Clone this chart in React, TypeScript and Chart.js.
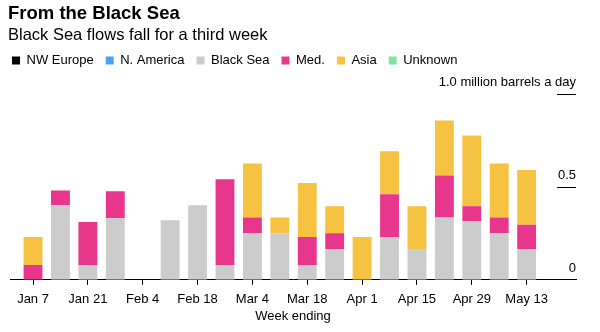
import React, { useEffect, useRef } from "react";
import { Chart, registerables } from "chart.js";

Chart.register(...registerables);

const FAMILY = "'Liberation Sans', Arial, Helvetica, sans-serif";

const TITLE = "From the Black Sea";
const SUBTITLE = "Black Sea flows fall for a third week";
const UNIT_LABEL = "1.0 million barrels a day";
const X_TITLE = "Week ending";

const weeks = [
  "Jan 7", "Jan 14", "Jan 21", "Jan 28", "Feb 4", "Feb 11", "Feb 18", "Feb 25",
  "Mar 4", "Mar 11", "Mar 18", "Mar 25", "Apr 1", "Apr 8", "Apr 15", "Apr 22",
  "Apr 29", "May 6", "May 13",
];
const tickLabels = ["Jan 7", "Jan 21", "Feb 4", "Feb 18", "Mar 4", "Mar 18", "Apr 1", "Apr 15", "Apr 29", "May 13"];
const yTickValues = [0, 0.5, 1.0];
const yTickLabels = ["0", "0.5", ""];

const nwEurope: number[] = [];
const nAmerica: number[] = [];
const blackSea = [0, 0.4, 0.08, 0.33, 0, 0.32, 0.4, 0.08, 0.25, 0.25, 0.08, 0.165, 0, 0.23, 0.165, 0.335, 0.315, 0.25, 0.165];
const med = [0.08, 0.08, 0.23, 0.145, 0, 0, 0, 0.46, 0.085, 0, 0.15, 0.085, 0, 0.23, 0, 0.225, 0.08, 0.085, 0.13];
const asia = [0.15, 0, 0, 0, 0, 0, 0, 0, 0.29, 0.085, 0.29, 0.145, 0.23, 0.23, 0.23, 0.295, 0.38, 0.29, 0.295];
const unknown: number[] = [];

const seriesNames = ["NW Europe", "N. America", "Black Sea", "Med.", "Asia", "Unknown"];
const seriesColors = ["#000000", "#4aa3ef", "#cccccc", "#e8368d", "#f5c242", "#7fe6a0"];
const seriesValues = [nwEurope, nAmerica, blackSea, med, asia, unknown];

const overlayPlugin = {
  id: "overlay",
  afterDraw(chart: any) {
    const { ctx, chartArea, scales } = chart;
    const y = scales.y;
    ctx.save();
    ctx.fillStyle = "#000";
    ctx.textAlign = "left";
    ctx.textBaseline = "alphabetic";
    ctx.font = `bold 18.5px ${FAMILY}`;
    ctx.fillText(TITLE, 8, 19);
    ctx.font = `16.5px ${FAMILY}`;
    ctx.fillText(SUBTITLE, 8, 40);

    ctx.font = `13px ${FAMILY}`;
    ctx.textAlign = "right";
    ctx.strokeStyle = "#000";
    ctx.lineWidth = 1;
    yTickValues.forEach((v, i) => {
      const py = y.getPixelForValue(v);
      if (v > 0) {
        const ly = Math.round(py) + 0.5;
        ctx.beginPath();
        ctx.moveTo(chartArea.right - 19, ly);
        ctx.lineTo(chartArea.right, ly);
        ctx.stroke();
      }
      if (yTickLabels[i]) ctx.fillText(yTickLabels[i], chartArea.right, py - 7.5);
    });
    ctx.restore();
  },
};

export default function App() {
  const canvasRef = useRef<HTMLCanvasElement | null>(null);

  useEffect(() => {
    const canvas = canvasRef.current;
    if (!canvas) return;
    const font = { family: FAMILY, size: 13 };
    const chart = new Chart(canvas, {
      type: "bar",
      data: {
        datasets: seriesNames.map((name, s) => ({
          label: name,
          data: seriesValues[s].map((v, i) => ({ x: i, y: v })),
          backgroundColor: seriesColors[s],
          borderWidth: 0,
          barPercentage: 0.86,
          categoryPercentage: 0.8,
        })),
      },
      options: {
        responsive: false,
        animation: false,
        devicePixelRatio: 1,
        layout: { padding: { top: 42, right: 24, bottom: 8, left: 0 } },
        plugins: {
          title: { display: false },
          subtitle: {
            display: true,
            text: UNIT_LABEL,
            align: "end",
            position: "top",
            weight: 500,
            color: "#000",
            font: { family: FAMILY, size: 13, weight: "normal" },
            padding: { top: -2, bottom: 3 },
          },
          legend: {
            display: true,
            position: "top",
            align: "start",
            labels: {
              boxWidth: 8,
              boxHeight: 8,
              padding: 12,
              color: "#000",
              font,
            },
          },
          tooltip: { enabled: false },
        },
        scales: {
          x: {
            type: "linear",
            min: -0.84,
            max: 19.8,
            stacked: true,
            offset: false,
            afterBuildTicks: (axis: any) => {
              axis.ticks = tickLabels.map((l) => ({ value: weeks.indexOf(l) }));
            },
            ticks: {
              callback: (v: any) => weeks[v as number],
              font,
              color: "#000",
              padding: 7,
              autoSkip: false,
              maxRotation: 0,
            },
            grid: {
              display: true,
              offset: false,
              drawOnChartArea: false,
              drawTicks: true,
              tickLength: 5,
              color: "#000",
              lineWidth: 1,
            },
            border: { display: true, color: "#000", width: 1 },
            title: {
              display: true,
              text: X_TITLE,
              font,
              color: "#000",
              padding: { top: -6, bottom: 0 },
            },
          },
          y: {
            type: "linear",
            position: "left",
            min: 0,
            max: 1,
            stacked: true,
            ticks: { display: false },
            grid: { display: false },
            border: { display: false },
            afterFit: (s: any) => {
              s.width = 10;
            },
          },
        },
      },
      plugins: [overlayPlugin],
    } as any);
    return () => chart.destroy();
  }, []);

  return (
    <div style={{ position: "fixed", left: 0, top: 0, width: 600, height: 332, background: "#fff" }}>
      <canvas ref={canvasRef} width={600} height={332} style={{ display: "block", width: 600, height: 332 }} />
    </div>
  );
}
